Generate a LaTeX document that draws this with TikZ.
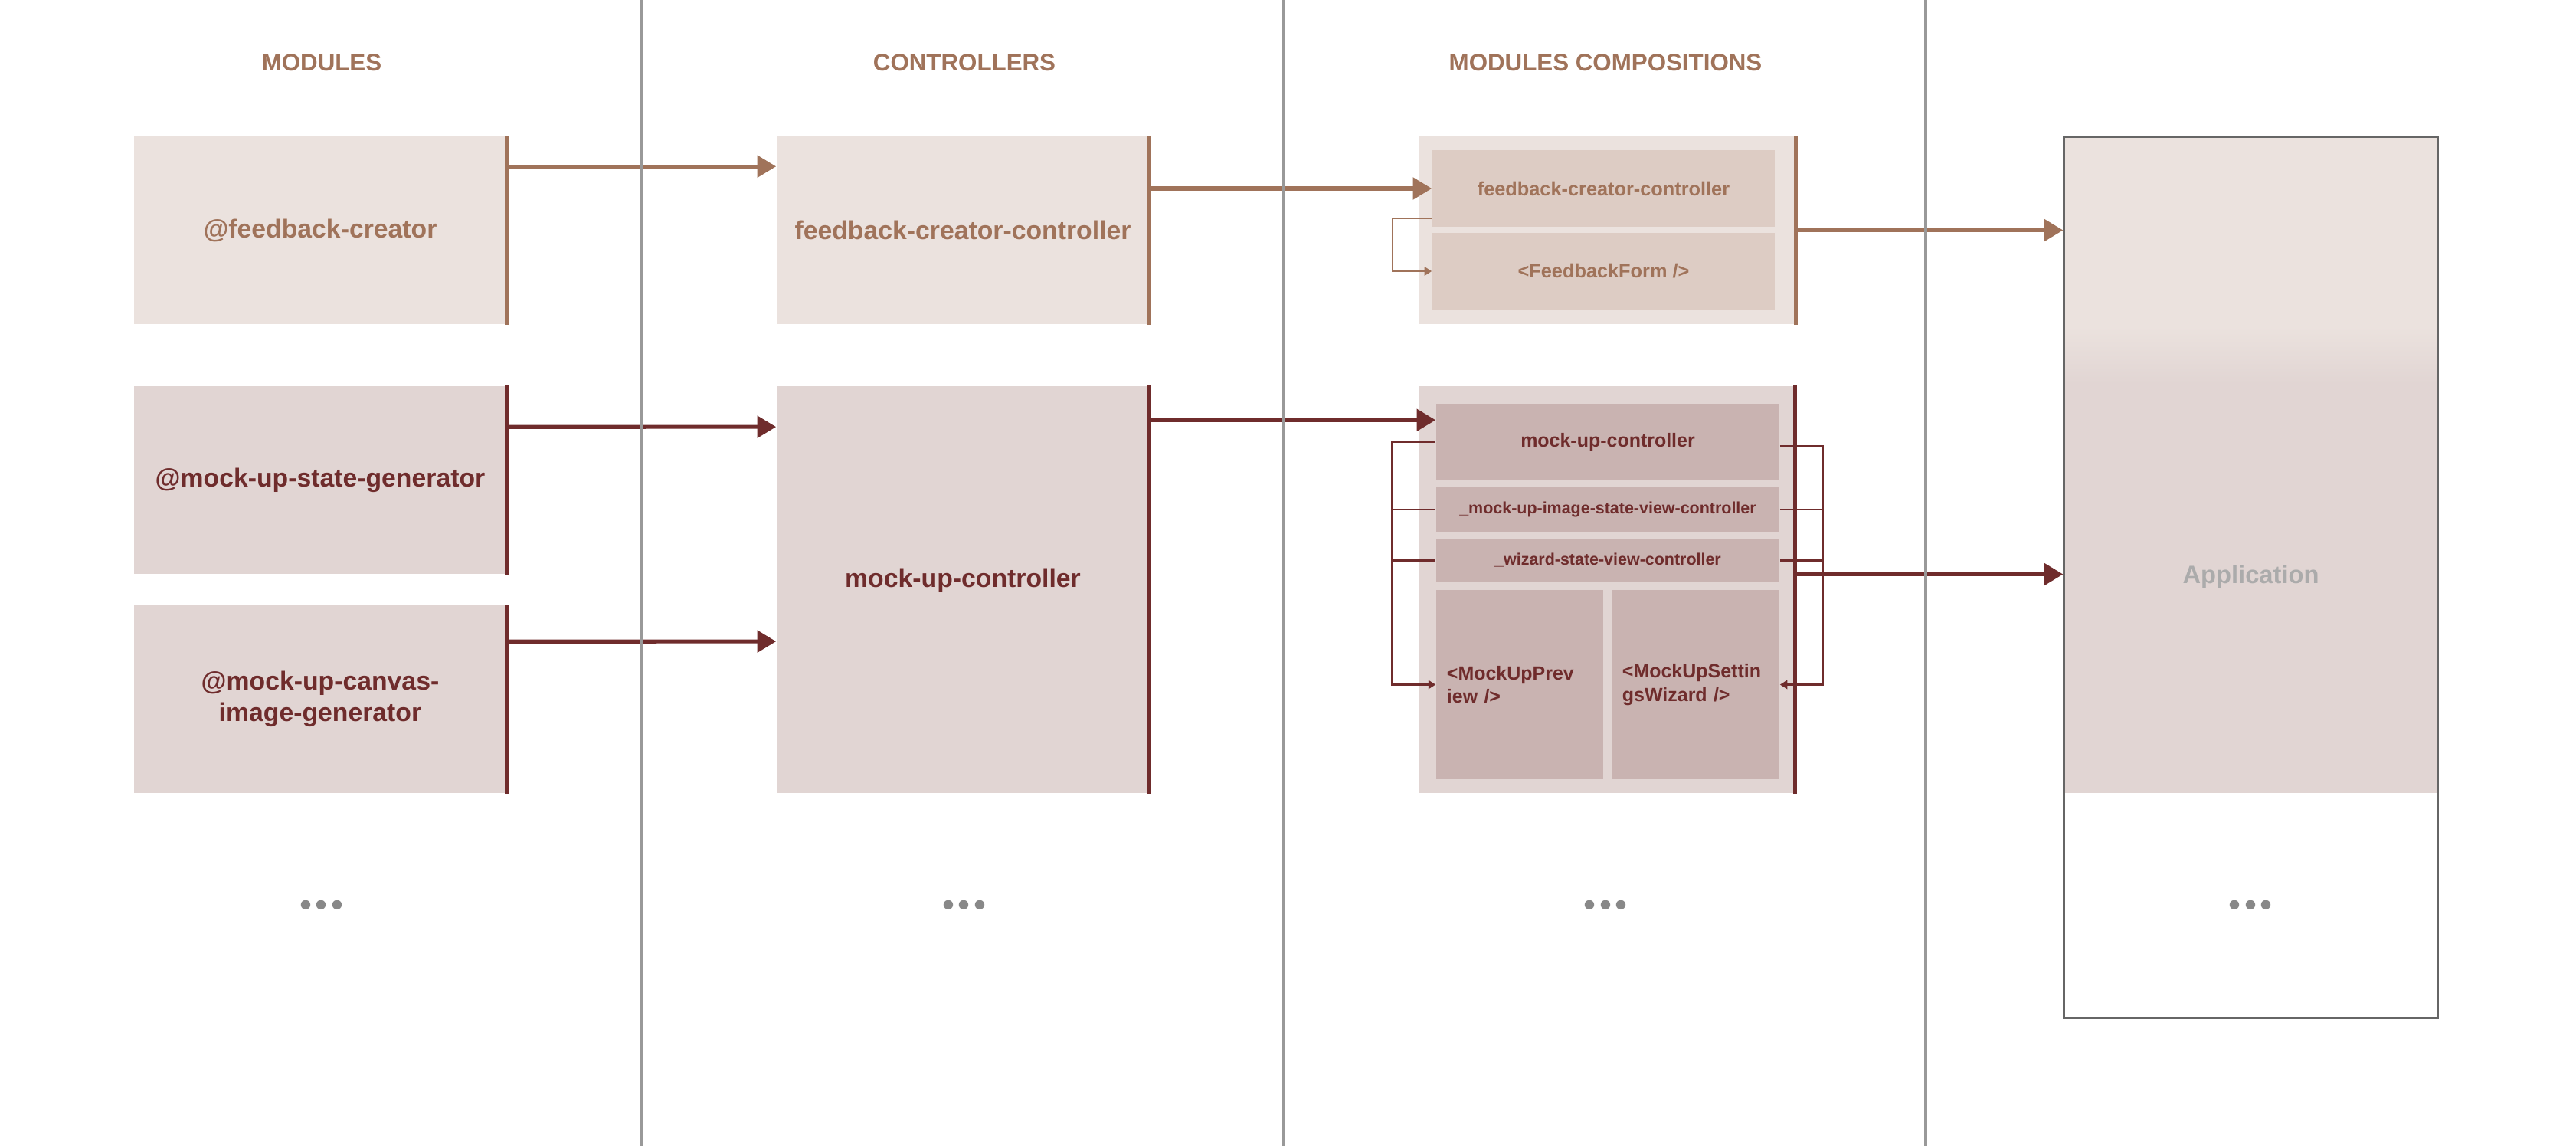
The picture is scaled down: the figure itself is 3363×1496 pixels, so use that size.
\documentclass[tikz,border=0pt]{standalone}
\usepackage{fontspec}
\setmainfont{Liberation Sans}
\usepackage{tikz}
\usetikzlibrary{arrows.meta}
\usetikzlibrary{calc}

\definecolor{fbbrown}{HTML}{A0735A}
\definecolor{mudark}{HTML}{6F2C2C}
\definecolor{fbfill}{HTML}{EBE2DE}
\definecolor{fbinner}{HTML}{DDCCC4}
\definecolor{mufill}{HTML}{E1D5D3}
\definecolor{muinner}{HTML}{C9B3B1}
\definecolor{divgray}{HTML}{999999}
\definecolor{appgray}{HTML}{666666}
\definecolor{apptext}{HTML}{ABABAB}
\definecolor{dotgray}{HTML}{888888}

\newcommand{\moredots}{\textbullet\kern1.2pt\textbullet\kern1.2pt\textbullet}

\tikzset{
	box/.style={rectangle, inner sep=0pt, align=center, font=\fontsize{9.6}{11.7}\selectfont\bfseries},
	fbbox/.style={box, fill=fbfill, text=fbbrown},
	mubox/.style={box, fill=mufill, text=mudark},
	fbsub/.style={box, fill=fbinner, text=fbbrown, font=\fontsize{7.2}{8.6}\selectfont\bfseries},
	musub/.style={box, fill=muinner, text=mudark, font=\fontsize{7.1}{8.6}\selectfont\bfseries},
	smalltext/.style={font=\fontsize{6.1}{7}\selectfont\bfseries},
	heading/.style={text=fbbrown, inner sep=0pt, font=\fontsize{8.9}{11}\selectfont\bfseries},
	appbox/.style={rectangle, draw=appgray, line width=0.85pt, inner sep=0pt, text=apptext, font=\fontsize{9.3}{11.7}\selectfont\bfseries},
	dotrow/.style={text=dotgray, inner sep=0pt, font=\fontsize{13}{15}\selectfont},
	fbedge/.style={draw=fbbrown, line width=1.45pt},
	muedge/.style={draw=mudark, line width=1.45pt},
	fbarrow/.style={draw=fbbrown, line width=1.45pt, -{Triangle[length=7pt, width=8pt]}},
	muarrow/.style={draw=mudark, line width=1.45pt, -{Triangle[length=7pt, width=8pt]}},
	fbthin/.style={draw=fbbrown, line width=0.7pt, -{Triangle[length=2.7pt, width=3.2pt]}},
	muthin/.style={draw=mudark, line width=0.7pt, -{Triangle[length=2.7pt, width=3.2pt]}},
	muline/.style={draw=mudark, line width=0.7pt},
	divline/.style={draw=divgray, line width=1.1pt}
}

\begin{document}
\begin{tikzpicture}[x=0.01cm, y=-0.01cm]
		\path [use as bounding box, fill=white] (0,0) rectangle (3363,1496);

		\node (headmod) [heading] at (420,82) {MODULES};
		\node (headctrl) [heading] at (1259,82) {CONTROLLERS};
		\node (headcomp) [heading] at (2096,82) {MODULES COMPOSITIONS};

		\node (rectfbmod) [fbbox, minimum width=4.86cm, minimum height=2.45cm] at (418,300.5) {@feedback-creator};
		\node (rectmsgen) [mubox, minimum width=4.86cm, minimum height=2.45cm] at (418,626.5) {@mock-up-state-generator};
		\node (rectmcgen) [mubox, minimum width=4.86cm, minimum height=2.45cm] at (418,912.5) {@mock-up-canvas-\\image-generator};

		\node (rectfbctrl) [fbbox, minimum width=4.86cm, minimum height=2.45cm] at (1257,300.5) {feedback-creator-controller};
		\node (rectmuctrl) [mubox, minimum width=4.86cm, minimum height=5.31cm] at (1257,769.5) {\raisebox{0.3cm}{mock-up-controller}};

		\node (rectfbcomp) [fbbox, minimum width=4.92cm, minimum height=2.45cm] at (2098,300.5) {};
		\node (rectfbinner) [fbsub, minimum width=4.47cm, minimum height=1cm] at (2093.5,246) {feedback-creator-controller};
		\node (rectfbform) [fbsub, minimum width=4.47cm, minimum height=1cm] at (2093.5,354) {<FeedbackForm />};

		\node (rectmucomp) [mubox, minimum width=4.91cm, minimum height=5.31cm] at (2097.5,769.5) {};
		\node (rectmuinner) [musub, minimum width=4.48cm, minimum height=1cm] at (2099,577) {mock-up-controller};
		\node (rectimgview) [musub, smalltext, minimum width=4.48cm, minimum height=0.58cm] at (2099,665) {\_mock-up-image-state-view-controller};
		\node (rectwizview) [musub, smalltext, minimum width=4.48cm, minimum height=0.57cm] at (2099,731.5) {\_wizard-state-view-controller};
		\node (rectpreview) [musub, align=left, text width=1.9cm, inner xsep=0.14cm, minimum width=2.18cm, minimum height=2.47cm] at (1984,893.5) {<MockUpPrev\\iew />};
		\node (rectwizard) [musub, align=left, text width=1.91cm, inner xsep=0.14cm, minimum width=2.19cm, minimum height=2.47cm] at (2213.5,893.5) {<MockUpSettin\\gsWizard />};

		\fill [fbfill] (2695,179) rectangle (3182,427);
		\shade [top color=fbfill, bottom color=mufill] (2695,427) rectangle (3182,500);
		\fill [mufill] (2695,500) rectangle (3182,1035);
		\node (rectapp) [appbox, minimum width=4.87cm, minimum height=11.49cm] at (2938.5,753.5) {Application};

		\node (dotsmod) [dotrow] at (420,1186) {\moredots};
		\node (dotsctrl) [dotrow] at (1259,1186) {\moredots};
		\node (dotscomp) [dotrow] at (2096,1186) {\moredots};
		\node (dotsapp) [dotrow] at (2938,1186) {\moredots};

		\draw [fbthin] ($(rectfbinner.south west)+(0,-12)$) -- ++(-51,0) |- (rectfbform.west);
		\draw [muthin] (rectmuinner.west) -- ++(-57,0) |- (rectpreview.west);
		\draw [muline] (rectimgview.west) -- ++(-57,0);
		\draw [muline] (rectwizview.west) -- ++(-57,0);
		\draw [muthin] ($(rectmuinner.east)+(0,5)$) -- ++(56,0) |- (rectwizard.east);
		\draw [muline] (rectimgview.east) -- ++(56,0);
		\draw [muline] (rectwizview.east) -- ++(56,0);

		\draw [fbedge] (rectfbmod.north east) -- (rectfbmod.south east);
		\draw [fbedge] (rectfbctrl.north east) -- (rectfbctrl.south east);
		\draw [fbedge] (rectfbcomp.north east) -- (rectfbcomp.south east);
		\draw [muedge] (rectmsgen.north east) -- (rectmsgen.south east);
		\draw [muedge] (rectmcgen.north east) -- (rectmcgen.south east);
		\draw [muedge] (rectmuctrl.north east) -- (rectmuctrl.south east);
		\draw [muedge] (rectmucomp.north east) -- (rectmucomp.south east);

		\draw [fbarrow] ($(rectfbmod.north east)+(0,40)$) -- ($(rectfbctrl.north west)+(0,40)$);
		\draw [muarrow] ($(rectmsgen.north east)+(0,54)$) -- ($(rectmuctrl.north west)+(0,54)$);
		\draw [muarrow] ($(rectmcgen.north east)+(0,48)$) -- ($(rectmuctrl.north west)+(0,334)$);

		\draw [fbarrow] (rectfbctrl.east |- rectfbinner.west) -- (rectfbinner.west);
		\coordinate (muin) at ($(rectmuinner.north west)+(0,22)$);
		\draw [muarrow] (rectmuctrl.east |- muin) -- (muin);

		\draw [fbarrow] (rectfbcomp.east) -- (rectfbcomp.east -| rectapp.west);
		\coordinate (muout) at ($(rectmucomp.east)+(0,-20)$);
		\draw [muarrow] (muout) -- (muout -| rectapp.west);

		\draw [divline] (837,0) -- (837,1496);
		\draw [divline] (1676,0) -- (1676,1496);
		\draw [divline] (2514,0) -- (2514,1496);

\end{tikzpicture}
\end{document}
